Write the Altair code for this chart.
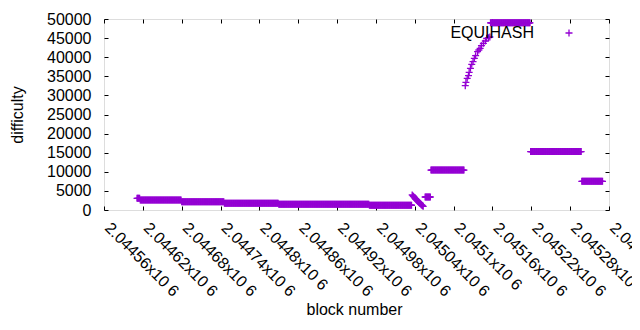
import altair as alt
import pandas as pd

# ---- data ----
# constant-difficulty runs: first block, last block, difficulty
run_first = [2044611, 2044616, 2044680, 2044746, 2044830, 2044970, 2045056, 2045065, 2045157, 2045219, 2045298]
run_last = [2044615, 2044679, 2044745, 2044829, 2044969, 2045035, 2045064, 2045116, 2045218, 2045297, 2045330]
run_value = [3060, 2620, 2150, 1780, 1500, 1250, 3400, 10450, 49000, 15300, 7500]

# falling stretch around 2.04504x10^6
drop_blocks = [2045036, 2045037, 2045038, 2045039, 2045040, 2045041, 2045042, 2045043, 2045044,
               2045045, 2045046, 2045047, 2045048, 2045049, 2045050, 2045051, 2045052, 2045053]
drop_values = [3950, 3750, 3550, 3350, 3150, 2950, 2800, 2600, 2450,
               2250, 2100, 1900, 1750, 1550, 1400, 1250, 1100, 950]

# rising stretch around 2.0451x10^6
rise_blocks = [2045118, 2045119, 2045121, 2045123, 2045124, 2045126, 2045128, 2045130, 2045132, 2045134,
               2045137, 2045139, 2045141, 2045143, 2045146, 2045149, 2045151, 2045154, 2045156]
rise_values = [32540, 33430, 34470, 35170, 36040, 37090, 38140, 38830, 39700, 40400,
               41440, 41890, 42330, 43020, 43640, 44240, 44950, 45110, 45290]

series_name = "EQUIHASH"

x_ticks = [2044560, 2044620, 2044680, 2044740, 2044800, 2044860, 2044920, 2044980,
           2045040, 2045100, 2045160, 2045220, 2045280, 2045340]
x_tick_labels = ["2.04456x10 6", "2.04462x10 6", "2.04468x10 6", "2.04474x10 6", "2.0448x10 6",
                 "2.04486x10 6", "2.04492x10 6", "2.04498x10 6", "2.04504x10 6", "2.0451x10 6",
                 "2.04516x10 6", "2.04522x10 6", "2.04528x10 6", "2.04534x10 6"]
y_ticks = [0, 5000, 10000, 15000, 20000, 25000, 30000, 35000, 40000, 45000, 50000]

# ---- table ----
blocks, values = [], []
for a, b, v in zip(run_first, run_last, run_value):
    for blk in range(a, b + 1):
        blocks.append(blk)
        values.append(v)
blocks += drop_blocks + rise_blocks
values += drop_values + rise_values
df = pd.DataFrame({"block": blocks, "difficulty": values, "series": series_name})

FONT = "Liberation Sans"
PLUS = "M-1,0L1,0M0,-1L0,1"
W, H = 505, 191
xdom = alt.Scale(domain=[x_ticks[0], x_ticks[-1]], nice=False, zero=False)
ydom = alt.Scale(domain=[y_ticks[0], y_ticks[-1]], nice=False)

label_expr = ("[" + ",".join("'%s'" % s for s in x_tick_labels) + "][indexof(["
              + ",".join(str(t) for t in x_ticks) + "], datum.value)]")

main = alt.Chart(df).mark_point(shape=PLUS, size=49, filled=False, strokeWidth=1.3, opacity=1).encode(
    x=alt.X("block:Q", scale=xdom, axis=alt.Axis(
        orient="bottom", values=x_ticks, labelExpr=label_expr, labelAngle=45, labelAlign="left",
        labelBaseline="middle", labelPadding=15, labelOffset=3, ticks=False, tickSize=0, domain=False,
        grid=False, labelFlush=False, labelOverlap=False, labelFont=FONT, labelFontSize=16,
        labelColor="black", title="block number", titleFont=FONT, titleFontSize=16,
        titleFontWeight="normal", titleColor="black", titleX=250, titleY=104,
        titleBaseline="alphabetic", titleAlign="center")),
    y=alt.Y("difficulty:Q", scale=ydom, axis=alt.Axis(
        orient="left", values=y_ticks, format="d", ticks=False, tickSize=0, domain=False, grid=False,
        labelPadding=13, labelFlush=False, labelOverlap=False, labelFont=FONT, labelFontSize=16,
        labelColor="black", title="difficulty", titleFont=FONT, titleFontSize=16,
        titleFontWeight="normal", titleColor="black", titleX=-87, titleY=H / 2, titleAngle=-90,
        titleBaseline="middle", titleAlign="center")),
    color=alt.Color("series:N", scale=alt.Scale(range=["#9400d3"]), legend=alt.Legend(
        orient="none", legendX=457, legendY=6, title=None, symbolType=PLUS, symbolSize=49,
        symbolStrokeWidth=1.3, labelAlign="right", labelOffset={"expr": "-43"}, labelFont=FONT,
        labelFontSize=16, labelColor="black", padding=0)),
)

def tick_layer(xorient, yorient):
    return alt.Chart(df).mark_point(opacity=0).encode(
        x=alt.X("block:Q", scale=xdom, axis=alt.Axis(
            orient=xorient, offset=-H, values=x_ticks, labels=False, ticks=True, tickSize=4,
            tickColor="black", tickWidth=1, domain=False, grid=False, title=None)),
        y=alt.Y("difficulty:Q", scale=ydom, axis=alt.Axis(
            orient=yorient, offset=-W, values=y_ticks, labels=False, ticks=True, tickSize=4,
            tickColor="black", tickWidth=1, domain=False, grid=False, title=None)),
    )

chart = alt.layer(main, tick_layer("top", "right"), tick_layer("bottom", "left")).resolve_axis(
    x="independent", y="independent"
).properties(
    width=W, height=H,
    autosize=alt.AutoSizeParams(type="none"),
    padding={"left": 96, "top": 11, "right": 23, "bottom": 108},
).configure_view(stroke="black", strokeWidth=1).configure(background="white")

chart.save("out.html", embed_options={"renderer": "svg", "actions": False})
